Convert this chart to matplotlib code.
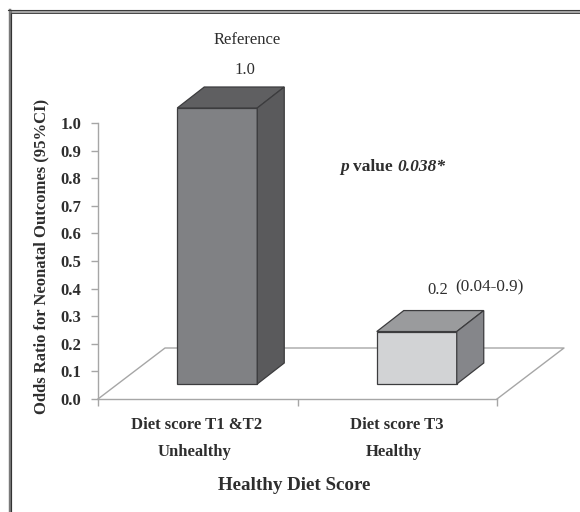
import matplotlib
matplotlib.use('Agg')
from matplotlib import pyplot as plt
from matplotlib.patches import Polygon

categories = ['Diet score T1 &T2', 'Diet score T3']
groups = ['Unhealthy', 'Healthy']
odds_ratio = [1.0, 0.19]
y_ticks = [0.0, 0.1, 0.2, 0.3, 0.4, 0.5, 0.6, 0.7, 0.8, 0.9, 1.0]
x_edges = [-0.5, 0.5, 1.5]

W, H = 580, 512
AXIS = '#a6a6a6'
TEXT = '#2e2e2e'

plt.rcParams['font.family'] = ['Liberation Serif', 'DejaVu Serif']

fig = plt.figure(figsize=(W / 100, H / 100), dpi=100)
fig.patch.set_facecolor('white')

# image frame, only top and left show up in the picture
fig.add_artist(plt.Line2D([9.5 / W, 9.5 / W], [0, 1 - 10 / H], color='#7a7a7a', lw=1.75))
fig.add_artist(plt.Line2D([11.3 / W, 11.3 / W], [0, 1 - 10 / H], color='#333333', lw=0.85))
fig.add_artist(plt.Line2D([8.3 / W, 1], [1 - 10.2 / H, 1 - 10.2 / H], color='#3a3a3a', lw=0.8))
fig.add_artist(plt.Line2D([10.7 / W, 1], [1 - 11.5 / H, 1 - 11.5 / H], color='#8a8a8a', lw=1.1))
fig.add_artist(plt.Line2D([10.7 / W, 1], [1 - 12.9 / H, 1 - 12.9 / H], color='#444444', lw=0.7))

# plot area in pixels: x 98-497, y 123-399
ax = fig.add_axes([98 / W, 1 - 399 / H, 399 / W, 276 / H])
ax.set_xlim(-0.5, 1.5)
ax.set_ylim(0, 1)
ax.patch.set_alpha(0)

for s in ['top', 'right']:
    ax.spines[s].set_visible(False)
for s in ['left', 'bottom']:
    ax.spines[s].set_color(AXIS)
    ax.spines[s].set_linewidth(1)

ax.set_yticks(y_ticks)
ax.set_yticklabels([f'{v:.1f}' for v in y_ticks], fontsize=12, fontweight='bold', color=TEXT)
ax.tick_params(axis='y', length=5, width=1, color=AXIS, pad=7)
ax.set_xticks(x_edges)
ax.set_xticklabels([])
ax.tick_params(axis='x', length=5, width=1, color=AXIS)

# depth of the floor and of the bars, in data units
floor_dx = 67 / 199.5
floor_dy = 51 / 276
bar_dx = 27 / 199.5
bar_dy = 21 / 276
bar_w = 80 / 199.5
shift_x = 19.5 / 199.5
shift_y = 15 / 276

ax.plot([-0.5, -0.5 + floor_dx, 1.5 + floor_dx, 1.5],
        [0, floor_dy, floor_dy, 0], color=AXIS, lw=1, clip_on=False, zorder=1)

bar_colors = [('#808184', '#5f5f61', '#5a5a5c'), ('#d2d3d5', '#9a9b9d', '#85868a')]

for i, val in enumerate(odds_ratio):
    x0 = i - bar_w / 2 + shift_x
    x1 = x0 + bar_w
    y0 = shift_y
    y1 = shift_y + val
    front, top, side = bar_colors[i]
    polys = [
        ([(x0, y0), (x1, y0), (x1, y1), (x0, y1)], front),
        ([(x0, y1), (x1, y1), (x1 + bar_dx, y1 + bar_dy), (x0 + bar_dx, y1 + bar_dy)], top),
        ([(x1, y0), (x1 + bar_dx, y0 + bar_dy), (x1 + bar_dx, y1 + bar_dy), (x1, y1)], side),
    ]
    for pts, col in polys:
        ax.add_patch(Polygon(pts, closed=True, facecolor=col, edgecolor='#3c3c3e',
                             lw=0.9, clip_on=False, zorder=3))


def px(x, y, s, **kw):
    fig.text(x / W, 1 - y / H, s, ha='center', va='center', **kw)


px(247, 40, 'Reference', fontsize=12, color=TEXT)
px(245, 70, '1.0', fontsize=12, color=TEXT)
fig.text(340 / W, 1 - 167 / H, 'p', style='italic', fontweight='bold', fontsize=12.5,
         color=TEXT, ha='left', va='center')
fig.text(353 / W, 1 - 167 / H, 'value', fontweight='bold', fontsize=12.5,
         color=TEXT, ha='left', va='center')
fig.text(397 / W, 1 - 167 / H, '0.038*', style='italic', fontweight='bold', fontsize=12.5,
         color=TEXT, ha='left', va='center')
px(438, 290, '0.2', fontsize=12, color=TEXT)
px(489, 287, '(0.04-0.9)', fontsize=12.3, color=TEXT)

for i, (c, g) in enumerate(zip(categories, groups)):
    px([197, 397][i], 425, c, fontsize=12, fontweight='bold', color=TEXT)
    px([195, 394][i], 452, g, fontsize=12, fontweight='bold', color=TEXT)

px(294, 485, 'Healthy Diet Score', fontsize=13.7, fontweight='bold', color=TEXT)
px(41, 256, 'Odds Ratio for Neonatal Outcomes (95%CI)', fontsize=12, fontweight='bold',
   color=TEXT, rotation=90)

fig.savefig('out.png', dpi=100)
